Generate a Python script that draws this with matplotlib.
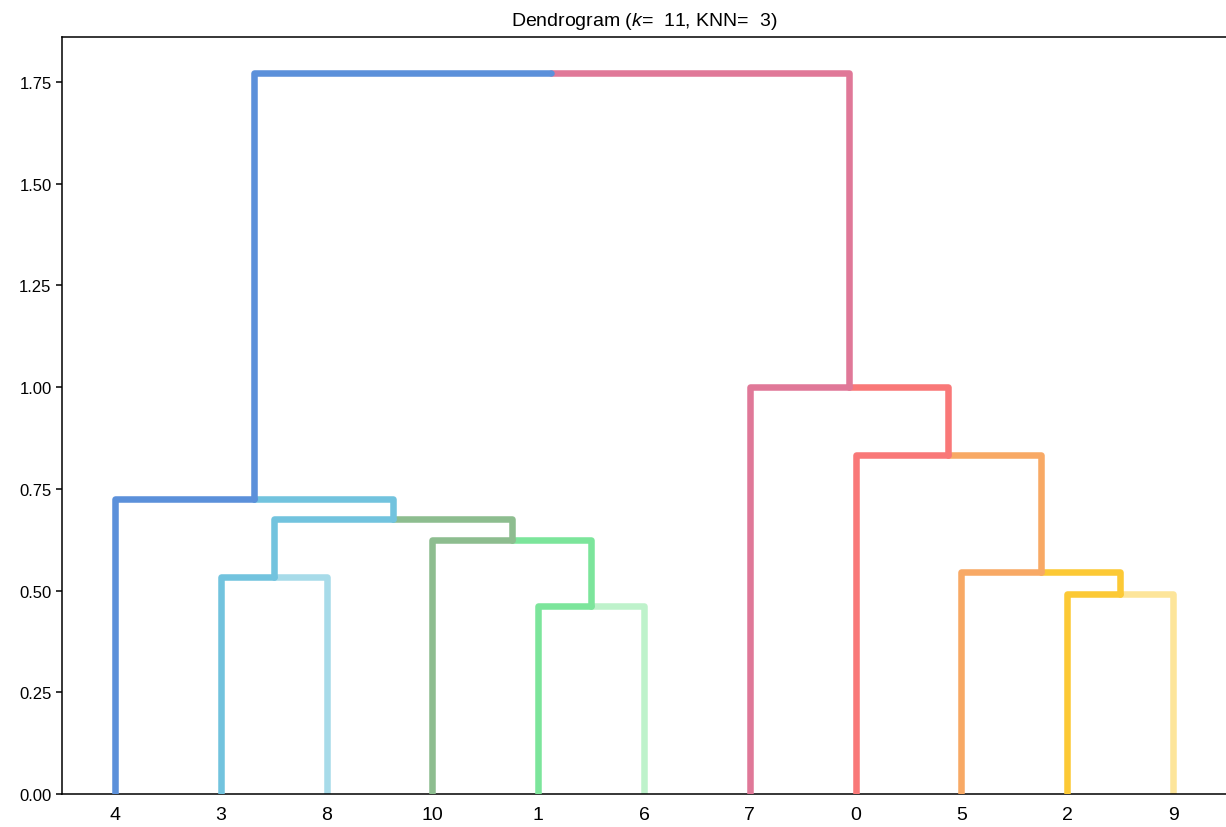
import matplotlib
matplotlib.use("Agg")
import matplotlib.pyplot as plt

plt.rcParams['font.family'] = ['Liberation Sans', 'DejaVu Sans']
plt.rcParams['mathtext.fontset'] = 'custom'
plt.rcParams['mathtext.rm'] = 'Liberation Sans'
plt.rcParams['mathtext.it'] = 'Liberation Sans:italic'

# leaf order along the x axis
leaves = [4, 3, 8, 10, 1, 6, 7, 0, 5, 2, 9]
leaf_colors = {
    4: '#5b90da', 3: '#72c3de', 8: '#a7dbe9', 10: '#8dbd8f',
    1: '#7ce59b', 6: '#bef2cb', 7: '#e07898', 0: '#f97878',
    5: '#f8a965', 2: '#fcc935', 9: '#fde59a',
}
# merges: (child a, child b, height); new cluster ids start at 11
merges = [
    (1, 6, 0.462),
    (2, 9, 0.492),
    (3, 8, 0.533),
    (5, 12, 0.546),
    (10, 11, 0.624),
    (13, 15, 0.676),
    (4, 16, 0.725),
    (0, 14, 0.833),
    (7, 18, 1.000),
    (17, 19, 1.772),
]

xpos = {leaf: i for i, leaf in enumerate(leaves)}
height = {leaf: 0.0 for leaf in leaves}
color = dict(leaf_colors)

fig = plt.figure(figsize=(12.26, 8.28), dpi=100)
ax = fig.add_axes([62 / 1226, 33 / 828, 1164 / 1226, 757 / 828])

lw = 4.7
n = len(leaves)
for i, (a, b, h) in enumerate(merges):
    node = n + i
    if xpos[a] > xpos[b]:
        a, b = b, a
    xa, xb = xpos[a], xpos[b]
    mid = (xa + xb) / 2
    ax.plot([xb, xb, mid], [height[b], h, h], color=color[b], lw=lw,
            solid_capstyle='round', solid_joinstyle='round', zorder=2)
    ax.plot([xa, xa, mid], [height[a], h, h], color=color[a], lw=lw,
            solid_capstyle='round', solid_joinstyle='round', zorder=3)
    xpos[node] = mid
    height[node] = h
    color[node] = color[a]

ax.set_xlim(-0.5, n - 0.5)
ax.set_ylim(0, 1.86)
ax.set_xticks(range(n))
ax.set_xticklabels([str(l) for l in leaves], fontsize=14)
ax.set_yticks([0, 0.25, 0.5, 0.75, 1.0, 1.25, 1.5, 1.75])
ax.set_yticklabels(['0.00', '0.25', '0.50', '0.75', '1.00', '1.25', '1.50', '1.75'],
                   fontsize=12)
ax.tick_params(axis='x', length=0, pad=9)
ax.tick_params(axis='y', length=4, width=1.1)
ax.spines['right'].set_visible(False)
for s in ['left', 'top', 'bottom']:
    ax.spines[s].set_linewidth(1.1)
ax.set_title(r'Dendrogram ($k$=  11, KNN=  3)', fontsize=14, pad=9)

fig.savefig('out.png', dpi=100)
